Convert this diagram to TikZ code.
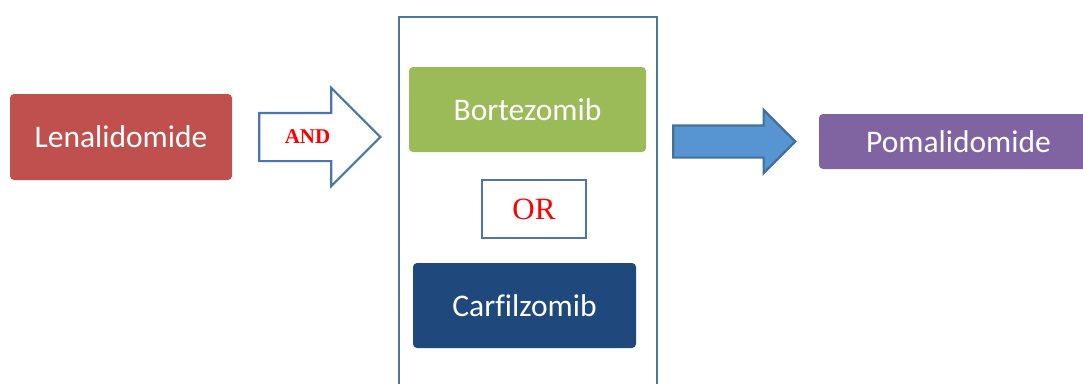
\documentclass[tikz,border=0pt]{standalone}
\usepackage{fontspec}
\setmainfont{Carlito}[Ligatures=CommonOff]
\newfontfamily\timesfont{Liberation Serif}
\usepackage{tikz}
\usetikzlibrary{shapes.arrows, positioning}
\definecolor{lenared}{HTML}{C0504D}
\definecolor{bortgreen}{HTML}{9BBB59}
\definecolor{carfblue}{HTML}{1F497D}
\definecolor{pomapurple}{HTML}{8064A2}
\definecolor{frameblue}{HTML}{4A76A8}
\definecolor{arrowfill}{HTML}{5694D2}
\definecolor{arrowline}{HTML}{41719C}
\tikzset{
  drug/.style    = {rectangle, rounded corners=4pt, text=white, inner sep=0pt,
                    font=\fontsize{31.5}{37}\selectfont},
  frame/.style   = {rectangle, draw=frameblue, line width=2.2pt, inner sep=0pt},
  bigarrow/.style = {single arrow, line width=2.2pt, inner xsep=0pt,
                    single arrow head extend=#1, single arrow tip angle=90},
  redword/.style = {text=red, font=\timesfont\fontsize{31}{37}\selectfont}
}

\begin{document}
\begin{tikzpicture}[x=1pt, y=-1pt]
    \useasboundingbox (0,0) rectangle (1083,383);

    \node (lena) [drug, fill=lenared, minimum width=222pt, minimum height=86pt] at (121,137) {Lenalidomide};

    \node (cont) [frame, minimum width=258pt, minimum height=390pt] at (528,212) {};
    \node (bort) [drug, fill=bortgreen, minimum width=237pt, minimum height=85pt] at (527.5,109.5) {Bortezomib};
    \node (or) [frame, redword, minimum width=104pt, minimum height=58pt] at (534,209) {OR};
    \node (carf) [drug, fill=carfblue, minimum width=223pt, minimum height=85pt] at (524.5,305.5) {Carfilzomib};

    \node (poma) [drug, fill=pomapurple, minimum width=279pt, minimum height=55pt] at (958.5,141.5) {Pomalidomide};

    % block arrows between the groups
    \node (andarrow) [bigarrow=25pt, draw=frameblue, fill=white, inner ysep=23pt,
                      minimum height=121pt, right=26pt of lena] {};
    \node (andtxt) [text=red, font=\timesfont\bfseries\fontsize{21}{25}\selectfont] at (307.5,137) {AND};
    \node (thenarrow) [bigarrow=15.5pt, draw=arrowline, fill=arrowfill, inner ysep=15pt,
                       minimum height=122pt, left=22pt of poma] {};
\end{tikzpicture}
\end{document}
